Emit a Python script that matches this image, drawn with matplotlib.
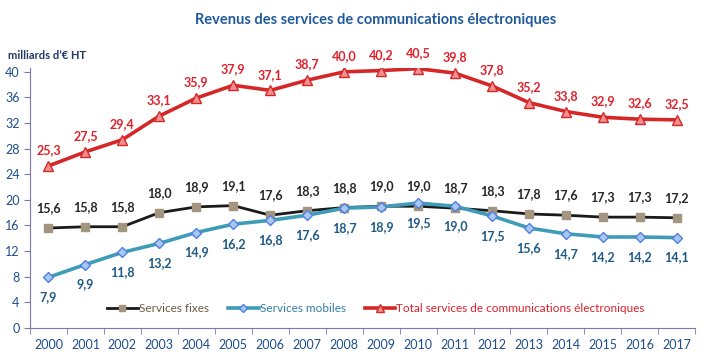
import matplotlib
matplotlib.use("Agg")
import matplotlib.pyplot as plt
import numpy as np

plt.rcParams['font.family'] = ['Lato', 'DejaVu Sans']

years = [str(y) for y in range(2000, 2018)]
fixes = [15.6, 15.8, 15.8, 18.0, 18.9, 19.1, 17.6, 18.3, 18.8, 19.0, 19.0, 18.7, 18.3, 17.8, 17.6, 17.3, 17.3, 17.2]
mobiles = [7.9, 9.9, 11.8, 13.2, 14.9, 16.2, 16.8, 17.6, 18.7, 18.9, 19.5, 19.0, 17.5, 15.6, 14.7, 14.2, 14.2, 14.1]
total = [25.3, 27.5, 29.4, 33.1, 35.9, 37.9, 37.1, 38.7, 40.0, 40.2, 40.5, 39.8, 37.8, 35.2, 33.8, 32.9, 32.6, 32.5]
yticks = [0, 4, 8, 12, 16, 20, 24, 28, 32, 36, 40]

blue_txt = '#1F4E8C'
axis_col = '#7A78B0'

def fmt(v):
    return f"{v:.1f}".replace('.', ',')

fig = plt.figure(figsize=(7.04, 3.56), dpi=100)
ax = fig.add_axes([0.0426, 0.079, 0.945, 0.730])
x = np.arange(len(years))

l1, = ax.plot(x, fixes, color='#1a1a1a', lw=2, marker='s', ms=6,
              mfc='#A39580', mec='#A39580', label='Services fixes', zorder=3)
l2, = ax.plot(x, mobiles, color='#3E9CB8', lw=2.6, marker='D', ms=5,
              mfc='#A9C8F0', mec='#4F7FE0', mew=1, label='Services mobiles', zorder=4)
l3, = ax.plot(x, total, color='#D62728', lw=2.6, marker='^', ms=7,
              mfc='#F09090', mec='#D62728', mew=1,
              label='Total services de communications électroniques', zorder=3)

for xi, v in zip(x, fixes):
    ax.annotate(fmt(v), (xi, v), xytext=(0, 10), textcoords='offset points',
                ha='center', va='bottom', fontsize=9, fontweight='bold', color='#262626')
for xi, v in zip(x, mobiles):
    ax.annotate(fmt(v), (xi, v), xytext=(0, -10), textcoords='offset points',
                ha='center', va='top', fontsize=9, fontweight='bold', color='#1F5A86')
for xi, v in zip(x, total):
    ax.annotate(fmt(v), (xi, v), xytext=(0, 7), textcoords='offset points',
                ha='center', va='bottom', fontsize=9, fontweight='bold', color='#E0202A')

ax.set_xlim(-0.5, len(years) - 0.5)
ax.set_ylim(0, 40.6)
ax.set_yticks(yticks)
ax.set_yticklabels([str(t) for t in yticks])
ax.set_xticks(x)
ax.set_xticklabels(years)
ax.set_xticks(np.arange(-0.5, len(years)), minor=True)
ax.tick_params(axis='x', which='major', length=0, labelsize=9, colors=blue_txt, pad=8)
ax.tick_params(axis='x', which='minor', length=4, color=axis_col)
ax.tick_params(axis='y', length=4, color=axis_col, labelsize=9, labelcolor=blue_txt)

for s in ['top', 'right']:
    ax.spines[s].set_visible(False)
ax.spines['left'].set_color(axis_col)
ax.spines['bottom'].set_color(axis_col)

leg = ax.legend(handles=[l1, l2, l3], loc='center', bbox_to_anchor=(0.52, 0.075),
                ncol=3, frameon=False, fontsize=8.5, handlelength=2.6,
                handletextpad=0.1, columnspacing=1.6, markerscale=0.8)
for t, c in zip(leg.get_texts(), ['#6B5A45', '#2F7FA8', '#E0202A']):
    t.set_color(c)

fig.text(0.533, 0.945, 'Revenus des services de communications électroniques',
         ha='center', va='center', fontsize=10.5, fontweight='bold', color='#1F5A9C')
fig.text(0.012, 0.845, 'milliards d\u2019€ HT', ha='left', va='center',
         fontsize=8, fontweight='bold', color='#1F3864')

fig.savefig('out.png', dpi=100)
